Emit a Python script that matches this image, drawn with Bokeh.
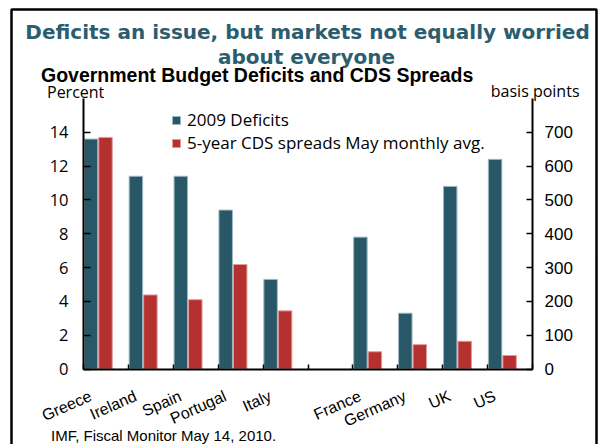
import math
from bokeh.plotting import figure
from bokeh.models import Range1d, LinearAxis, FixedTicker, Label, Legend, LegendItem
from bokeh.embed import file_html
from bokeh.resources import INLINE

# ---- data ----
categories = ["Greece", "Ireland", "Spain", "Portugal", "Italy", "", "France", "Germany", "UK", "US"]
deficits_2009 = [13.6, 11.4, 11.4, 9.4, 5.3, None, 7.8, 3.3, 10.8, 12.4]   # percent
cds_spreads = [685, 219, 205, 309, 172, None, 51, 72, 82, 40]             # basis points
left_ticks = [0, 2, 4, 6, 8, 10, 12, 14]
right_ticks = [0, 100, 200, 300, 400, 500, 600, 700]
series_names = ["2009 Deficits", "5-year CDS spreads May monthly avg."]

title_1 = "Deficits an issue, but markets not equally worried"
title_2 = "about everyone"
subtitle = "Government Budget Deficits and CDS Spreads"
left_unit = "Percent"
right_unit = "basis points"
source_note = "IMF, Fiscal Monitor May 14, 2010."

# ---- layout / style ----
W, H = 604, 444
AX_L, AX_R, AX_T, AX_B = 83, 532, 98, 368.5     # chart box on the canvas (px)
Y_MAX, BP_MAX = 16, 800
BLUE = "#285767"
RED = "#B5312F"
TEAL = "#2C5D6E"
BLUE_OFF, RED_OFF, BAR_W = 0.167, 0.49, 0.30
LABEL_OFF = 0.16
TXT_SHIFT = 5      # baseline correction for Label text

n_slots = len(categories)
px_x = (AX_R - AX_L) / n_slots
px_y = (AX_B - AX_T) / Y_MAX
x_rng = Range1d(-AX_L / px_x, n_slots + (W - AX_R) / px_x)
y_rng = Range1d(-(H - AX_B) / px_y, Y_MAX + AX_T / px_y)
k = BP_MAX / Y_MAX
bp_rng = Range1d(y_rng.start * k, y_rng.end * k)

slots = [i for i, c in enumerate(categories) if c]
names = [categories[i] for i in slots]
blue_vals = [deficits_2009[i] for i in slots]
red_vals = [cds_spreads[i] for i in slots]

p = figure(width=W, height=H, output_backend="svg", toolbar_location=None,
           x_range=x_rng, y_range=y_rng,
           min_border_left=0, min_border_right=0, min_border_top=0, min_border_bottom=0)
p.extra_y_ranges = {"bp": bp_rng}
p.xgrid.visible = False
p.ygrid.visible = False
p.outline_line_color = None
p.background_fill_color = "white"
p.border_fill_color = "white"

# slide border (canvas px -> data coordinates)
bx0 = x_rng.start + 11 / px_x
bx1 = x_rng.start + 596 / px_x
by_top = y_rng.end - 9 / px_y
p.line(x=[bx0, bx0, bx1, bx1], y=[y_rng.start, by_top, by_top, y_rng.start],
       line_color="black", line_width=2.5)

rb = p.vbar(x=[s + BLUE_OFF for s in slots], top=blue_vals, width=BAR_W, bottom=0,
            fill_color=BLUE, line_color="#9DB6C0", line_width=1)
rr = p.vbar(x=[s + RED_OFF for s in slots], top=red_vals, width=BAR_W, bottom=0,
            fill_color=RED, line_color="#E39A98", line_width=1, y_range_name="bp")

# bottom axis
xa = p.xaxis[0]
xa.fixed_location = 0
xa.bounds = (0, n_slots)
xa.ticker = FixedTicker(ticks=[s + LABEL_OFF for s in slots],
                        minor_ticks=list(range(n_slots + 1)))
xa.major_label_overrides = {s + LABEL_OFF: n for s, n in zip(slots, names)}
xa.axis_line_width = 2
xa.axis_line_color = "black"
xa.major_tick_line_color = None
xa.minor_tick_in = 5
xa.minor_tick_out = 0
xa.minor_tick_line_color = "black"
xa.minor_tick_line_width = 1.5
xa.major_label_orientation = math.radians(24)
xa.major_label_standoff = 20
xa.major_label_text_font = "Liberation Sans"
xa.major_label_text_font_size = "16px"
xa.major_label_text_color = "black"

# left axis
ya = p.yaxis[0]
ya.fixed_location = 0
ya.bounds = (0, Y_MAX)
ya.ticker = FixedTicker(ticks=left_ticks)
ya.axis_line_width = 2
ya.axis_line_color = "black"
ya.major_tick_in = 7
ya.major_tick_out = 0
ya.major_tick_line_width = 1.5
ya.major_tick_line_color = "black"
ya.minor_tick_line_color = None
ya.major_label_standoff = 15
ya.major_label_text_font = "Open Sans"
ya.major_label_text_font_size = "16.5px"
ya.major_label_text_color = "black"

# right axis
ra = LinearAxis(y_range_name="bp", ticker=FixedTicker(ticks=right_ticks))
ra.fixed_location = n_slots
ra.bounds = (0, BP_MAX)
ra.axis_line_width = 2
ra.axis_line_color = "black"
ra.major_tick_in = 6
ra.major_tick_out = 0
ra.major_tick_line_width = 1.5
ra.major_tick_line_color = "black"
ra.minor_tick_line_color = None
ra.major_label_standoff = 12
ra.major_label_text_font = "Liberation Sans"
ra.major_label_text_font_size = "17px"
ra.major_label_text_color = "black"
p.add_layout(ra, "right")

# legend
legend = Legend(items=[LegendItem(label=series_names[0], renderers=[rb]),
                       LegendItem(label=series_names[1], renderers=[rr])],
                location=(171, 290))
legend.padding = 0
legend.margin = 0
legend.spacing = 0
legend.glyph_width = 10
legend.glyph_height = 10
legend.label_height = 20
legend.label_standoff = 6
legend.border_line_color = None
legend.background_fill_alpha = 0
legend.label_text_font = "Open Sans"
legend.label_text_font_size = "17px"
legend.label_text_line_height = 1.0
legend.label_text_color = "black"
p.add_layout(legend)

# texts (screen units: from the canvas' bottom-left corner)
def add_text(txt, x, y, font, size, color="black", style="normal", align="left"):
    p.add_layout(Label(x=x, y=y + TXT_SHIFT, x_units="screen", y_units="screen", text=txt,
                       text_font=font, text_font_size=size, text_color=color,
                       text_font_style=style, text_align=align, text_baseline="alphabetic"))

add_text(title_1, 307, 407.5, "DejaVu Sans", "20px", TEAL, "bold", "center")
add_text(title_2, 306, 382.5, "DejaVu Sans", "20px", TEAL, "bold", "center")
add_text(subtitle, 40.5, 364.5, "Liberation Sans", "19.5px", "black", "bold")
add_text(left_unit, 46.5, 347.5, "Open Sans", "16px")
add_text(right_unit, 579, 349, "Open Sans", "16px", align="right")
add_text(source_note, 50.5, 4, "Liberation Sans", "15px")

open("out.html", "w").write(file_html(p, INLINE))
